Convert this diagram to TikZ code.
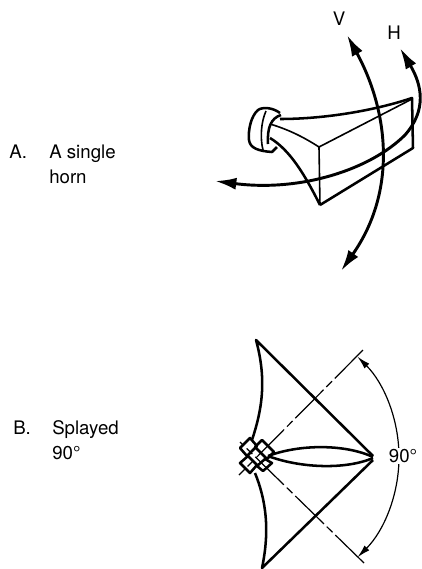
\documentclass[tikz,border=0pt]{standalone}
\usepackage{fontspec}
\setmainfont{TeX Gyre Heros}
\usetikzlibrary{arrows.meta}

\begin{document}
\begin{tikzpicture}[
  x=0.75pt, y=-0.75pt,
  font=\fontsize{14pt}{18.75pt}\selectfont,
  heavy/.style={line width=1.9pt, line join=round},
  medium/.style={line width=1.2pt, line join=round},
  thin line/.style={line width=0.9pt},
  swing/.style={line width=2.2pt, {Latex[length=16pt,width=9pt]}-{Latex[length=16pt,width=9pt]}},
  label/.style={align=left, anchor=base west, inner sep=0pt}
]
\useasboundingbox (0,0) rectangle (422,569);

% A: single horn
\draw[heavy] (280,113) .. controls (272,107) and (262,107) .. (258,110) .. controls (251,116) and (248,130) .. (249,140) .. controls (250,148) and (258,151) .. (272,152) -- (277,147);
\draw[medium] (266,111) .. controls (261,122) and (260,138) .. (263,150);
\draw[heavy] (281,115) .. controls (271,118) and (267,128) .. (268,144);
\draw[heavy] (280,119) .. controls (320,119) and (370,112) .. (412,98) -- (413,148) -- (320,205);
\draw[medium] (270,124) .. controls (290,130) and (305,138) .. (319,147) -- (412,99);
\draw[medium] (319,147) -- (320,205);
\draw[heavy] (270,138) .. controls (290,150) and (305,175) .. (320,205);

% arrows V and H
\draw[swing] (347,35) .. controls (388,110) and (398,190) .. (341,271);
\draw[swing] (215,181) .. controls (300,192) and (370,170) .. (405,135) .. controls (427,110) and (422,85) .. (400,48);

\node (vlabel) at (339,19) {V};
\node (hlabel) at (394,33) {H};
\node[label] (alabel) at (9,158) {A.};
\node[label] (atext) at (49,183) {A single\\horn};

% B: splayed
\draw[heavy] (252,440) .. controls (262,410) and (267,380) .. (256,340) -- (373,456);
\draw[heavy] (255,473) .. controls (266,500) and (270,530) .. (262,568) -- (373,460);
\draw[heavy] (268,456) .. controls (300,444) and (345,444) .. (373,457);
\draw[heavy] (268,456) .. controls (300,468) and (345,470) .. (373,458);

% feed grid
\draw[heavy] (240,448) -- (250,438) -- (257,446) -- (247,456) -- cycle;
\draw[heavy] (262,440) -- (274,452) -- (267,459) -- (255,447) -- cycle;
\draw[heavy] (240,463) -- (248,456) -- (257,465) -- (250,473) -- cycle;
\draw[heavy] (257,466) -- (265,459) -- (272,463) -- (263,471) -- cycle;

% dash-dot axes
\draw[thin line, dash pattern=on 30pt off 3pt on 6pt off 3pt] (363,350) -- (239,475);
\draw[thin line, dash pattern=on 30pt off 3pt on 6pt off 3pt] (364,563) -- (240,442);

\draw[thin line, -{Latex[length=10pt,width=5pt]}] (399,457) arc[start angle=0, end angle=-45, radius=142];
\draw[thin line, -{Latex[length=10pt,width=5pt]}] (399,457) arc[start angle=0, end angle=45, radius=142];
\node[fill=white, inner sep=1pt] (anglelabel) at (403,456) {90°};

\node[label] (blabel) at (13,434) {B.};
\node[label] (btext) at (52,459) {Splayed\\90°};
\end{tikzpicture}
\end{document}
